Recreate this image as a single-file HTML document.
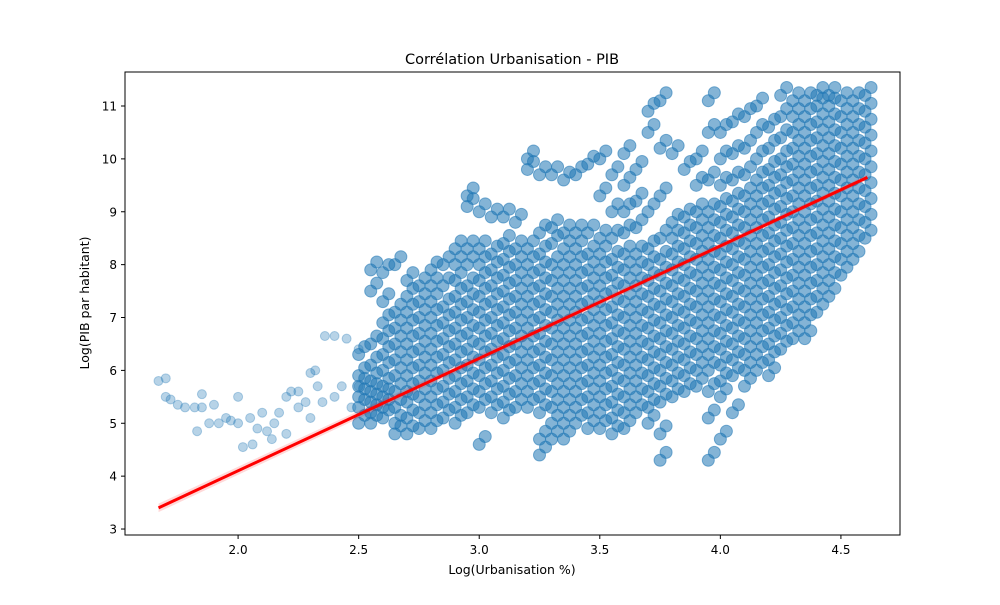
<!DOCTYPE html>
<html><head><meta charset="utf-8"><style>
body{margin:0;background:#fff;}
svg text{font-family:"DejaVu Sans","Liberation Sans",sans-serif;fill:#000;}
</style></head><body>
<svg id="chart" width="1000" height="600" xmlns="http://www.w3.org/2000/svg">
<rect width="1000" height="600" fill="#fff"/>
<g id="pts"></g>
<g id="reg"></g>
<rect x="125" y="72" width="775" height="463" fill="none" stroke="#000" stroke-width="1"/>
<g id="xt"></g>
<g id="yt"></g>
<text x="512" y="64" font-size="14.5" text-anchor="middle">Corrélation Urbanisation - PIB</text>
<text x="512" y="574" font-size="12.5" text-anchor="middle">Log(Urbanisation %)</text>
<text transform="translate(89,303) rotate(-90)" font-size="12.5" text-anchor="middle">Log(PIB par habitant)</text>
</svg>
<script>
const xTicks=[2.0,2.5,3.0,3.5,4.0,4.5];
const yTicks=[3,4,5,6,7,8,9,10,11];
const regX=[1.67,4.61];
const regY=[3.4,9.65];
const sparseX=[1.67,1.7,1.7,1.72,1.75,1.78,1.82,1.83,1.85,1.85,1.88,1.9,1.92,1.95,1.97,2.0,2.0,2.02,2.05,2.06,2.08,2.1,2.12,2.14,2.15,2.17,2.2,2.2,2.22,2.25,2.25,2.28,2.3,2.32,2.3,2.33,2.35,2.36,2.4,2.4,2.43,2.45,2.47,2.5,2.5];
const sparseY=[5.8,5.85,5.5,5.45,5.35,5.3,5.3,4.85,5.55,5.3,5.0,5.35,5.0,5.1,5.05,5.5,5.0,4.55,5.1,4.6,4.9,5.2,4.85,4.7,5.0,5.2,5.5,4.8,5.6,5.6,5.3,5.4,5.95,6.0,5.1,5.7,5.4,6.65,6.65,5.5,5.7,6.6,5.3,6.4,5.7];
const columnX=[2.5,2.55,2.6,2.65,2.7,2.75,2.8,2.85,2.9,2.95,3.0,3.05,3.1,3.15,3.2,3.25,3.3,3.35,3.4,3.45,3.5,3.55,3.6,3.65,3.7,3.75,3.8,3.85,3.9,3.95,4.0,4.05,4.1,4.15,4.2,4.25,4.3,4.35,4.4,4.45,4.5,4.55,4.6];
const columnY=[
[5.0,5.3,5.5,5.7,5.9,6.3],
[5.0,5.2,5.4,5.6,5.8,6.1,6.5,7.5,7.9],
[5.1,5.3,5.5,5.7,6.0,6.3,6.6,6.9,7.3,7.85],
[4.8,5.0,5.3,5.6,5.9,6.2,6.5,6.8,7.1,8.0],
[4.8,5.1,5.4,5.6,5.9,6.2,6.5,6.8,7.1,7.4,7.7],
[4.9,5.2,5.5,5.8,6.1,6.4,6.7,7.0,7.3,7.6],
[4.9,5.2,5.5,5.8,6.1,6.4,6.7,7.0,7.3,7.6,7.9],
[5.1,5.4,5.7,6.0,6.3,6.6,6.9,7.2,7.6,8.0],
[5.0,5.3,5.6,5.9,6.2,6.5,6.8,7.1,7.4,7.7,8.0,8.3],
[5.2,5.5,5.8,6.1,6.4,6.7,7.0,7.3,7.6,8.0,8.3,9.1,9.3],
[4.6,5.3,5.6,5.9,6.2,6.5,6.8,7.1,7.4,7.7,8.0,8.3,9.0],
[5.2,5.5,5.8,6.1,6.4,6.7,7.0,7.3,7.6,7.9,8.2,8.9],
[5.1,5.4,5.7,6.0,6.3,6.6,6.9,7.2,7.5,7.8,8.1,8.4,8.9],
[5.3,5.6,5.9,6.2,6.5,6.8,7.1,7.4,7.7,8.0,8.3,8.8],
[5.3,5.6,5.9,6.2,6.5,6.8,7.1,7.4,7.7,8.0,8.3,9.8,10.0],
[4.4,4.7,5.2,5.5,5.8,6.1,6.4,6.7,7.0,7.3,7.6,7.9,8.2,8.6,9.7],
[4.7,5.0,5.3,5.6,5.9,6.2,6.5,6.8,7.1,7.4,7.7,8.0,8.4,8.7,9.7],
[4.7,5.0,5.3,5.6,5.9,6.2,6.5,6.8,7.1,7.4,7.7,8.0,8.3,8.6,9.6],
[5.0,5.3,5.6,5.9,6.2,6.5,6.8,7.1,7.4,7.7,8.0,8.3,8.6,9.7],
[4.9,5.2,5.5,5.8,6.1,6.4,6.7,7.0,7.3,7.6,7.9,8.2,8.6,9.9],
[4.9,5.2,5.5,5.8,6.1,6.4,6.7,7.0,7.3,7.6,7.9,8.2,8.5,9.3,10.0],
[4.8,5.1,5.4,5.7,6.0,6.3,6.6,6.9,7.2,7.5,7.8,8.1,8.5,9.0,9.7],
[4.9,5.2,5.5,5.8,6.1,6.4,6.7,7.0,7.3,7.6,7.9,8.2,8.6,9.0,9.5,10.1],
[5.2,5.5,5.8,6.1,6.4,6.7,7.0,7.3,7.6,7.9,8.2,8.7,9.2,9.8],
[5.0,5.3,5.6,5.9,6.2,6.5,6.8,7.1,7.4,7.7,8.0,8.3,9.0,10.5,10.9],
[4.3,4.8,5.4,5.7,6.0,6.3,6.6,6.9,7.2,7.5,7.8,8.1,8.5,9.3,10.2,11.1],
[5.5,5.8,6.1,6.4,6.7,7.0,7.3,7.6,7.9,8.2,8.5,8.8,10.1],
[5.6,5.9,6.2,6.5,6.8,7.1,7.4,7.7,8.0,8.3,8.6,8.9,9.8],
[5.7,6.0,6.3,6.6,6.9,7.2,7.5,7.8,8.1,8.4,8.7,9.0,9.5,10.0],
[4.3,5.1,5.6,6.0,6.3,6.6,6.9,7.2,7.5,7.8,8.1,8.4,8.7,9.0,9.6,10.5,11.1],
[4.7,5.5,5.8,6.1,6.4,6.7,7.0,7.3,7.6,7.9,8.2,8.5,8.8,9.1,9.5,10.0,10.5],
[5.2,5.9,6.2,6.5,6.8,7.1,7.4,7.7,8.0,8.3,8.6,8.9,9.2,9.6,10.1,10.7],
[5.7,6.0,6.3,6.6,6.9,7.2,7.5,7.8,8.1,8.4,8.7,9.0,9.3,9.7,10.2,10.8],
[6.0,6.3,6.6,6.9,7.2,7.5,7.8,8.1,8.4,8.7,9.0,9.3,9.6,10.0,10.5,11.0],
[5.9,6.2,6.5,6.8,7.1,7.4,7.7,8.0,8.3,8.6,8.9,9.2,9.5,9.8,10.2,10.6],
[6.4,6.7,7.0,7.3,7.6,7.9,8.2,8.5,8.8,9.1,9.4,9.7,10.0,10.4,10.8,11.2],
[6.6,6.9,7.2,7.5,7.8,8.1,8.4,8.7,9.0,9.3,9.6,9.9,10.2,10.5,10.8,11.1],
[6.6,6.9,7.2,7.5,7.8,8.1,8.4,8.7,9.0,9.3,9.6,9.9,10.2,10.5,10.8,11.1],
[7.1,7.4,7.7,8.0,8.3,8.6,8.9,9.2,9.5,9.8,10.1,10.4,10.7,11.0,11.2],
[7.4,7.7,8.0,8.3,8.6,8.9,9.2,9.5,9.8,10.1,10.4,10.7,11.0,11.2],
[7.8,8.1,8.4,8.7,9.0,9.3,9.6,9.9,10.2,10.5,10.8,11.1],
[8.1,8.4,8.7,9.0,9.3,9.6,9.9,10.2,10.5,10.8,11.1],
[8.5,8.8,9.1,9.4,9.7,10.0,10.3,10.6,10.9,11.2]
];
const NS="http://www.w3.org/2000/svg";
const X0=1.531,X1=4.745,Y0=2.887,Y1=11.643,L=125,R=900,T=72,B=535;
function sx(v){return L+(v-X0)/(X1-X0)*(R-L);}
function sy(v){return B-(v-Y0)/(Y1-Y0)*(B-T);}
function mk(tag,attrs,parent){const e=document.createElementNS(NS,tag);for(const k in attrs)e.setAttribute(k,attrs[k]);parent.appendChild(e);return e;}
const pts=document.getElementById('pts');
function dot(x,y,op,r){
  const c=mk('circle',{cx:sx(x),cy:sy(y),r:r,fill:'#1f77b4','fill-opacity':op,stroke:'#1f77b4','stroke-opacity':op,'stroke-width':1},pts);
  
  
}
sparseX.forEach((x,i)=>dot(x,sparseY[i],0.32,4.5));
columnX.forEach((x,i)=>{columnY[i].forEach(y=>{dot(x,y,0.55,6);dot(x+0.025,y+0.15,0.55,6);});});
const reg=document.getElementById('reg');
const band=mk('polygon',{points:`${sx(regX[0])},${sy(regY[0]-0.08)} ${sx(regX[1])},${sy(regY[1]-0.05)} ${sx(regX[1])},${sy(regY[1]+0.05)} ${sx(regX[0])},${sy(regY[0]+0.08)}`,fill:'#ff0000','fill-opacity':0.15},reg);


const ln=mk('line',{x1:sx(regX[0]),y1:sy(regY[0]),x2:sx(regX[1]),y2:sy(regY[1]),stroke:'#ff0000','stroke-width':3},reg);


const xt=document.getElementById('xt');
xTicks.forEach(v=>{
  const t=mk('line',{x1:sx(v),x2:sx(v),y1:B,y2:B+4,stroke:'#000'},xt);
  
  
  const tx=mk('text',{x:sx(v),y:B+19,'font-size':12,'text-anchor':'middle'},xt);
  tx.textContent=v.toFixed(1);
  
  
});
const yt=document.getElementById('yt');
yTicks.forEach(v=>{
  const t=mk('line',{x1:L-4,x2:L,y1:sy(v),y2:sy(v),stroke:'#000'},yt);
  
  
  const tx=mk('text',{x:L-8,y:sy(v)+4.5,'font-size':12,'text-anchor':'end'},yt);
  tx.textContent=String(v);
  
  
});
</script>
</body></html>
